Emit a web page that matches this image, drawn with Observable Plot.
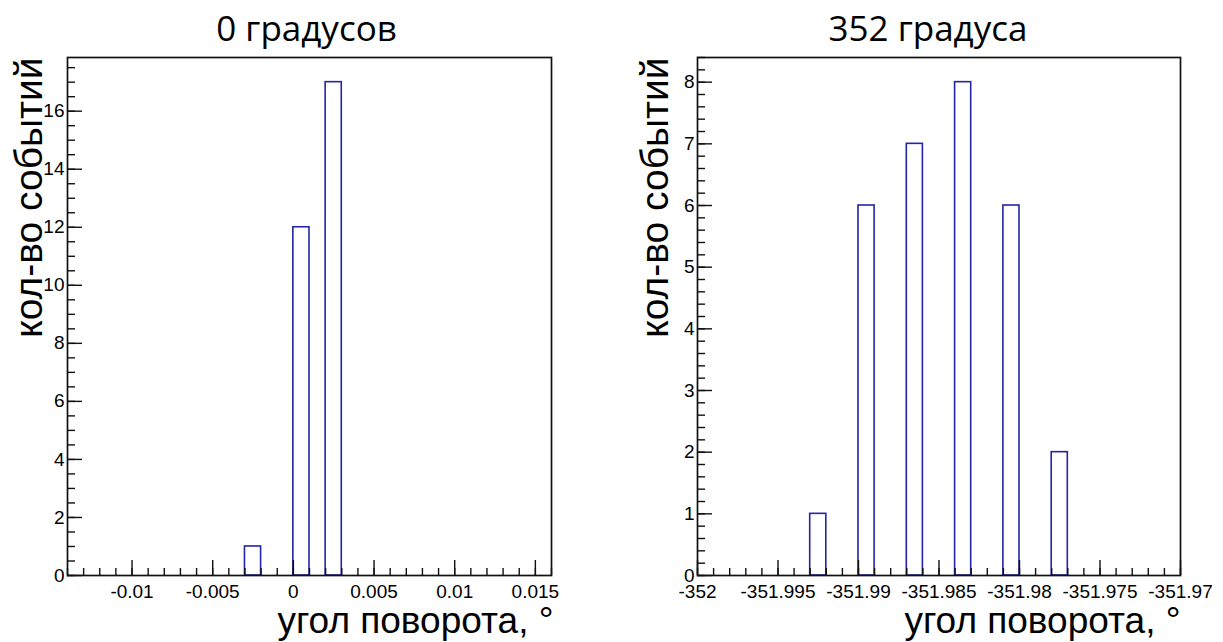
<!DOCTYPE html>
<html>
<head>
<meta charset="utf-8">
<script src="https://cdn.jsdelivr.net/npm/d3@7"></script>
<script src="https://cdn.jsdelivr.net/npm/@observablehq/plot@0.6"></script>
<style>
  html, body { margin: 0; padding: 0; background: #fff; }
  #wrap { display: flex; width: 1223px; height: 642px; }
  svg { overflow: visible; }
</style>
</head>
<body>
<div id="wrap"></div>
<script>
// ---- data ----
const leftTitle = "0 градусов";
const rightTitle = "352 градуса";
const xTitle = "угол поворота, °";
const yTitle = "кол-во событий";

// left histogram (0 degrees): bin low edge, bin high edge, count
const leftBinLow  = [-0.003, 0.000, 0.002];
const leftBinHigh = [-0.002, 0.001, 0.003];
const leftCounts  = [1, 12, 17];
const leftXTicks  = [-0.01, -0.005, 0, 0.005, 0.01, 0.015];
const leftYTicks  = [0, 2, 4, 6, 8, 10, 12, 14, 16];

// right histogram (352 degrees)
const rightBinLow  = [-351.993, -351.990, -351.987, -351.984, -351.981, -351.978];
const rightBinHigh = [-351.992, -351.989, -351.986, -351.983, -351.980, -351.977];
const rightCounts  = [1, 6, 7, 8, 6, 2];
const rightXTicks  = [-352, -351.995, -351.99, -351.985, -351.98, -351.975, -351.97];
const rightYTicks  = [0, 1, 2, 3, 4, 5, 6, 7, 8];

const BAR = "#2424a8";
const FONT = "Liberation Sans, Arial, Helvetica, sans-serif";
const TICK_FS = 19;
const fmt = d => String(+(+d).toFixed(4));

function hist({width, height, mL, mR, mT, mB, xDomain, yDomain, lo, hi, counts,
               xTicks, xMinor, yTicks, yMinor, title, titleSize, titleDx, yTitleDx, xTitleDx}) {
  const fw = width - mL - mR, fh = height - mT - mB;
  const bars = counts.map((c, i) => ({x1: lo[i], x2: hi[i], y: c}));
  return Plot.plot({
    width, height,
    marginLeft: mL, marginRight: mR, marginTop: mT, marginBottom: mB,
    style: {fontFamily: FONT, background: "white", overflow: "visible"},
    x: {domain: xDomain, axis: null},
    y: {domain: yDomain, axis: null},
    marks: [
      Plot.rectY(bars, {x1: "x1", x2: "x2", y: "y", fill: "white", stroke: BAR, strokeWidth: 1.6}),
      // minor & major ticks (inside frame)
      Plot.tickX(xMinor, {x: d => d, insetTop: fh - 7, stroke: "#111", strokeWidth: 1.4}),
      Plot.tickX(xTicks, {x: d => d, insetTop: fh - 15, stroke: "#111", strokeWidth: 1.4}),
      Plot.tickY(yMinor, {y: d => d, insetRight: fw - 8, stroke: "#111", strokeWidth: 1.4}),
      Plot.tickY(yTicks, {y: d => d, insetRight: fw - 15, stroke: "#111", strokeWidth: 1.4}),
      // tick labels
      Plot.text(xTicks, {x: d => d, frameAnchor: "bottom", dy: 9, lineAnchor: "top", text: fmt,
        fontSize: TICK_FS, fill: "#000"}),
      Plot.text(yTicks, {y: d => d, frameAnchor: "left", dx: -3, textAnchor: "end", lineAnchor: "middle", text: fmt,
        fontSize: TICK_FS, fill: "#000"}),
      Plot.frame({stroke: "#111", strokeWidth: 1.7}),
      Plot.text([title], {frameAnchor: "top", dx: titleDx, dy: -17, lineAnchor: "bottom",
        fontSize: titleSize, fontFamily: "Open Sans", fill: "#000"}),
      Plot.text([xTitle], {frameAnchor: "bottom-right", dx: xTitleDx, dy: 57, textAnchor: "end", lineAnchor: "bottom",
        fontSize: 37, fill: "#000"}),
      Plot.text([yTitle], {frameAnchor: "top-left", dx: yTitleDx, dy: 0, rotate: -90, textAnchor: "end", lineAnchor: "bottom",
        fontSize: 39, fill: "#000"})
    ]
  });
}

const leftMinorX = d3.range(-14, 17).map(i => i / 1000);
const leftMinorY = d3.range(0, 36).map(i => i / 2);
const rightMinorX = d3.range(0, 31).map(i => -352 + i / 1000);
const rightMinorY = d3.range(0, 43).map(i => i / 5);

const left = hist({
  width: 611, height: 642, mL: 67, mR: 60, mT: 57, mB: 67,
  xDomain: [-0.014, 0.016], yDomain: [0, 17.85],
  lo: leftBinLow, hi: leftBinHigh, counts: leftCounts,
  xTicks: leftXTicks, xMinor: leftMinorX, yTicks: leftYTicks, yMinor: leftMinorY,
  title: leftTitle, titleSize: 35, titleDx: -3, yTitleDx: -26, xTitleDx: 2
});
const right = hist({
  width: 612, height: 642, mL: 86, mR: 43, mT: 57, mB: 67,
  xDomain: [-352, -351.97], yDomain: [0, 8.4],
  lo: rightBinLow, hi: rightBinHigh, counts: rightCounts,
  xTicks: rightXTicks, xMinor: rightMinorX, yTicks: rightYTicks, yMinor: rightMinorY,
  title: rightTitle, titleSize: 35, titleDx: -11, yTitleDx: -30, xTitleDx: 0
});
document.getElementById("wrap").append(left, right);
</script>
</body>
</html>
